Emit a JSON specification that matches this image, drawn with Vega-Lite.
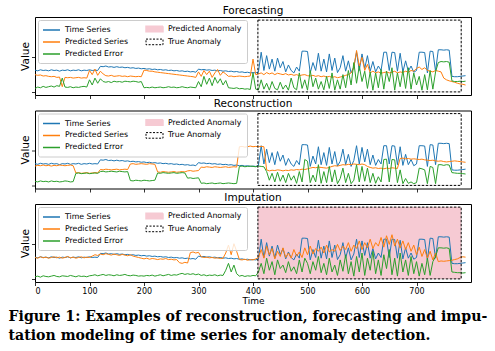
{
"$schema": "https://vega.github.io/schema/vega-lite/v6.json",
"background": "white",
"padding": {"left": 8, "top": 5, "right": 5, "bottom": 2},
"datasets": {
"box": [{"t": 409, "t2": 782, "lo": 0, "hi": 2.08}],
"s": [
{"t":0,"ts":0.63,"fp":0.50,"fe":0.10,"rp":0.56,"re":0.12,"ip":0.62,"ie":0.06},
{"t":5,"ts":0.61,"fp":0.48,"fe":0.14,"rp":0.58,"re":0.10,"ip":0.60,"ie":0.08},
{"t":10,"ts":0.64,"fp":0.49,"fe":0.12,"rp":0.57,"re":0.13,"ip":0.64,"ie":0.05},
{"t":15,"ts":0.62,"fp":0.46,"fe":0.16,"rp":0.59,"re":0.11,"ip":0.61,"ie":0.09},
{"t":20,"ts":0.63,"fp":0.47,"fe":0.13,"rp":0.57,"re":0.12,"ip":0.63,"ie":0.07},
{"t":25,"ts":0.61,"fp":0.45,"fe":0.15,"rp":0.58,"re":0.10,"ip":0.60,"ie":0.06},
{"t":30,"ts":0.64,"fp":0.44,"fe":0.17,"rp":0.56,"re":0.13,"ip":0.62,"ie":0.08},
{"t":35,"ts":0.62,"fp":0.45,"fe":0.14,"rp":0.58,"re":0.11,"ip":0.64,"ie":0.10},
{"t":40,"ts":0.63,"fp":0.42,"fe":0.18,"rp":0.57,"re":0.12,"ip":0.61,"ie":0.07},
{"t":45,"ts":0.60,"fp":0.43,"fe":0.16,"rp":0.59,"re":0.10,"ip":0.63,"ie":0.06},
{"t":50,"ts":0.63,"fp":0.15,"fe":0.40,"rp":0.58,"re":0.11,"ip":0.60,"ie":0.09},
{"t":55,"ts":0.62,"fp":0.42,"fe":0.14,"rp":0.57,"re":0.13,"ip":0.62,"ie":0.08},
{"t":60,"ts":0.64,"fp":0.41,"fe":0.13,"rp":0.58,"re":0.12,"ip":0.65,"ie":0.07},
{"t":65,"ts":0.61,"fp":0.42,"fe":0.15,"rp":0.59,"re":0.10,"ip":0.61,"ie":0.10},
{"t":70,"ts":0.63,"fp":0.40,"fe":0.12,"rp":0.57,"re":0.11,"ip":0.63,"ie":0.08},
{"t":75,"ts":0.62,"fp":0.41,"fe":0.14,"rp":0.36,"re":0.35,"ip":0.60,"ie":0.06},
{"t":80,"ts":0.64,"fp":0.42,"fe":0.13,"rp":0.37,"re":0.36,"ip":0.62,"ie":0.09},
{"t":85,"ts":0.61,"fp":0.40,"fe":0.15,"rp":0.35,"re":0.34,"ip":0.64,"ie":0.07},
{"t":90,"ts":0.63,"fp":0.41,"fe":0.16,"rp":0.36,"re":0.35,"ip":0.61,"ie":0.08},
{"t":95,"ts":0.62,"fp":0.40,"fe":0.14,"rp":0.37,"re":0.36,"ip":0.63,"ie":0.06},
{"t":100,"ts":0.64,"fp":0.62,"fe":0.35,"rp":0.35,"re":0.34,"ip":0.62,"ie":0.09},
{"t":105,"ts":0.62,"fp":0.50,"fe":0.20,"rp":0.36,"re":0.35,"ip":0.66,"ie":0.10},
{"t":110,"ts":0.63,"fp":0.66,"fe":0.40,"rp":0.37,"re":0.36,"ip":0.70,"ie":0.12},
{"t":115,"ts":0.62,"fp":0.48,"fe":0.25,"rp":0.36,"re":0.35,"ip":0.68,"ie":0.09},
{"t":120,"ts":0.74,"fp":0.60,"fe":0.38,"rp":0.46,"re":0.40,"ip":0.72,"ie":0.11},
{"t":125,"ts":0.73,"fp":0.52,"fe":0.30,"rp":0.45,"re":0.41,"ip":0.70,"ie":0.13},
{"t":130,"ts":0.75,"fp":0.47,"fe":0.28,"rp":0.47,"re":0.39,"ip":0.73,"ie":0.10},
{"t":135,"ts":0.72,"fp":0.46,"fe":0.30,"rp":0.46,"re":0.40,"ip":0.71,"ie":0.12},
{"t":140,"ts":0.73,"fp":0.48,"fe":0.27,"rp":0.45,"re":0.41,"ip":0.69,"ie":0.11},
{"t":145,"ts":0.71,"fp":0.45,"fe":0.31,"rp":0.46,"re":0.40,"ip":0.72,"ie":0.09},
{"t":150,"ts":0.73,"fp":0.46,"fe":0.29,"rp":0.47,"re":0.39,"ip":0.70,"ie":0.12},
{"t":155,"ts":0.71,"fp":0.47,"fe":0.30,"rp":0.45,"re":0.41,"ip":0.68,"ie":0.10},
{"t":160,"ts":0.72,"fp":0.45,"fe":0.28,"rp":0.46,"re":0.40,"ip":0.71,"ie":0.11},
{"t":165,"ts":0.70,"fp":0.46,"fe":0.31,"rp":0.47,"re":0.39,"ip":0.69,"ie":0.13},
{"t":170,"ts":0.71,"fp":0.44,"fe":0.30,"rp":0.46,"re":0.40,"ip":0.67,"ie":0.10},
{"t":175,"ts":0.69,"fp":0.46,"fe":0.29,"rp":0.62,"re":0.14,"ip":0.70,"ie":0.09},
{"t":180,"ts":0.70,"fp":0.45,"fe":0.31,"rp":0.63,"re":0.13,"ip":0.66,"ie":0.11},
{"t":185,"ts":0.68,"fp":0.44,"fe":0.30,"rp":0.61,"re":0.15,"ip":0.64,"ie":0.10},
{"t":190,"ts":0.69,"fp":0.45,"fe":0.28,"rp":0.62,"re":0.14,"ip":0.62,"ie":0.08},
{"t":195,"ts":0.67,"fp":0.44,"fe":0.30,"rp":0.63,"re":0.13,"ip":0.60,"ie":0.09},
{"t":200,"ts":0.68,"fp":0.63,"fe":0.12,"rp":0.62,"re":0.15,"ip":0.58,"ie":0.08},
{"t":205,"ts":0.66,"fp":0.62,"fe":0.13,"rp":0.61,"re":0.14,"ip":0.60,"ie":0.10},
{"t":210,"ts":0.67,"fp":0.60,"fe":0.12,"rp":0.63,"re":0.13,"ip":0.57,"ie":0.09},
{"t":215,"ts":0.65,"fp":0.60,"fe":0.14,"rp":0.62,"re":0.14,"ip":0.59,"ie":0.11},
{"t":220,"ts":0.66,"fp":0.58,"fe":0.12,"rp":0.61,"re":0.15,"ip":0.58,"ie":0.08},
{"t":225,"ts":0.64,"fp":0.57,"fe":0.13,"rp":0.39,"re":0.36,"ip":0.56,"ie":0.10},
{"t":230,"ts":0.65,"fp":0.56,"fe":0.14,"rp":0.38,"re":0.35,"ip":0.58,"ie":0.12},
{"t":235,"ts":0.63,"fp":0.55,"fe":0.12,"rp":0.40,"re":0.37,"ip":0.57,"ie":0.09},
{"t":240,"ts":0.64,"fp":0.54,"fe":0.13,"rp":0.39,"re":0.36,"ip":0.59,"ie":0.11},
{"t":245,"ts":0.62,"fp":0.53,"fe":0.15,"rp":0.38,"re":0.35,"ip":0.56,"ie":0.13},
{"t":250,"ts":0.63,"fp":0.52,"fe":0.13,"rp":0.39,"re":0.36,"ip":0.57,"ie":0.10},
{"t":255,"ts":0.61,"fp":0.51,"fe":0.14,"rp":0.40,"re":0.37,"ip":0.55,"ie":0.12},
{"t":260,"ts":0.62,"fp":0.50,"fe":0.12,"rp":0.38,"re":0.35,"ip":0.56,"ie":0.11},
{"t":265,"ts":0.60,"fp":0.49,"fe":0.13,"rp":0.39,"re":0.36,"ip":0.47,"ie":0.14},
{"t":270,"ts":0.61,"fp":0.48,"fe":0.15,"rp":0.40,"re":0.37,"ip":0.45,"ie":0.16},
{"t":275,"ts":0.59,"fp":0.47,"fe":0.13,"rp":0.39,"re":0.36,"ip":0.48,"ie":0.13},
{"t":280,"ts":0.60,"fp":0.46,"fe":0.12,"rp":0.42,"re":0.21,"ip":0.46,"ie":0.15},
{"t":285,"ts":0.58,"fp":0.45,"fe":0.14,"rp":0.43,"re":0.22,"ip":0.76,"ie":0.13},
{"t":290,"ts":0.59,"fp":0.44,"fe":0.13,"rp":0.41,"re":0.20,"ip":0.78,"ie":0.15},
{"t":295,"ts":0.57,"fp":0.42,"fe":0.12,"rp":0.42,"re":0.21,"ip":0.75,"ie":0.12},
{"t":300,"ts":0.66,"fp":0.58,"fe":0.30,"rp":0.43,"re":0.22,"ip":0.77,"ie":0.14},
{"t":305,"ts":0.64,"fp":0.45,"fe":0.15,"rp":0.53,"re":0.06,"ip":0.64,"ie":0.10},
{"t":310,"ts":0.65,"fp":0.62,"fe":0.45,"rp":0.52,"re":0.07,"ip":0.62,"ie":0.12},
{"t":315,"ts":0.63,"fp":0.50,"fe":0.22,"rp":0.54,"re":0.05,"ip":0.63,"ie":0.09},
{"t":320,"ts":0.64,"fp":0.60,"fe":0.40,"rp":0.53,"re":0.06,"ip":0.61,"ie":0.11},
{"t":325,"ts":0.62,"fp":0.42,"fe":0.18,"rp":0.52,"re":0.07,"ip":0.62,"ie":0.10},
{"t":330,"ts":0.63,"fp":0.55,"fe":0.42,"rp":0.54,"re":0.05,"ip":0.60,"ie":0.12},
{"t":335,"ts":0.61,"fp":0.65,"fe":0.25,"rp":0.53,"re":0.06,"ip":0.61,"ie":0.09},
{"t":340,"ts":0.62,"fp":0.48,"fe":0.38,"rp":0.52,"re":0.07,"ip":0.59,"ie":0.11},
{"t":345,"ts":0.60,"fp":0.58,"fe":0.20,"rp":0.53,"re":0.05,"ip":0.60,"ie":0.10},
{"t":350,"ts":0.61,"fp":0.52,"fe":0.33,"rp":0.54,"re":0.06,"ip":0.75,"ie":0.25},
{"t":355,"ts":0.59,"fp":0.45,"fe":0.12,"rp":0.52,"re":0.07,"ip":0.98,"ie":0.45},
{"t":360,"ts":0.60,"fp":0.46,"fe":0.11,"rp":0.53,"re":0.06,"ip":0.70,"ie":0.20},
{"t":365,"ts":0.58,"fp":0.44,"fe":0.10,"rp":0.54,"re":0.05,"ip":1.02,"ie":0.40},
{"t":370,"ts":0.59,"fp":0.45,"fe":0.12,"rp":0.53,"re":0.06,"ip":0.80,"ie":0.15},
{"t":375,"ts":0.57,"fp":0.46,"fe":0.09,"rp":1.12,"re":0.55,"ip":0.56,"ie":0.08},
{"t":380,"ts":0.58,"fp":0.45,"fe":0.10,"rp":1.13,"re":0.56,"ip":0.55,"ie":0.10},
{"t":385,"ts":0.56,"fp":0.44,"fe":0.08,"rp":1.11,"re":0.54,"ip":0.57,"ie":0.07},
{"t":390,"ts":0.57,"fp":0.45,"fe":0.09,"rp":1.12,"re":0.55,"ip":0.54,"ie":0.09},
{"t":395,"ts":0.55,"fp":0.46,"fe":0.07,"rp":1.14,"re":0.56,"ip":0.56,"ie":0.08},
{"t":400,"ts":0.56,"fp":0.95,"fe":0.55,"rp":1.12,"re":0.55,"ip":0.55,"ie":0.10},
{"t":405,"ts":0.55,"fp":0.50,"fe":0.08,"rp":1.13,"re":0.54,"ip":0.58,"ie":0.09},
{"t":410,"ts":0.58,"fp":0.52,"fe":0.06,"rp":1.12,"re":0.56,"ip":0.62,"ie":0.20},
{"t":415,"ts":1.15,"fp":0.55,"fe":0.35,"rp":1.13,"re":0.55,"ip":0.85,"ie":0.45},
{"t":420,"ts":0.62,"fp":0.50,"fe":0.08,"rp":1.12,"re":0.54,"ip":0.60,"ie":0.15},
{"t":425,"ts":1.05,"fp":0.56,"fe":0.25,"rp":0.45,"re":0.40,"ip":0.95,"ie":0.60},
{"t":430,"ts":0.66,"fp":0.52,"fe":0.05,"rp":0.42,"re":0.15,"ip":0.70,"ie":0.25},
{"t":435,"ts":0.95,"fp":0.55,"fe":0.30,"rp":0.44,"re":0.35,"ip":0.88,"ie":0.50},
{"t":440,"ts":0.60,"fp":0.50,"fe":0.10,"rp":0.43,"re":0.10,"ip":0.58,"ie":0.12},
{"t":445,"ts":0.98,"fp":0.54,"fe":0.06,"rp":0.45,"re":0.38,"ip":0.80,"ie":0.55},
{"t":450,"ts":0.70,"fp":0.52,"fe":0.28,"rp":0.44,"re":0.12,"ip":0.65,"ie":0.30},
{"t":455,"ts":0.88,"fp":0.50,"fe":0.08,"rp":0.42,"re":0.30,"ip":0.90,"ie":0.40},
{"t":460,"ts":0.58,"fp":0.53,"fe":0.20,"rp":0.44,"re":0.08,"ip":0.62,"ie":0.18},
{"t":465,"ts":0.78,"fp":0.49,"fe":0.05,"rp":0.43,"re":0.35,"ip":0.75,"ie":0.50},
{"t":470,"ts":0.62,"fp":0.51,"fe":0.40,"rp":0.45,"re":0.15,"ip":0.60,"ie":0.22},
{"t":475,"ts":0.55,"fp":0.48,"fe":0.12,"rp":0.44,"re":0.28,"ip":0.85,"ie":0.35},
{"t":480,"ts":0.72,"fp":0.50,"fe":0.06,"rp":0.46,"re":0.06,"ip":0.66,"ie":0.15},
{"t":485,"ts":0.60,"fp":0.47,"fe":0.55,"rp":0.45,"re":0.40,"ip":0.78,"ie":0.55},
{"t":490,"ts":1.18,"fp":0.49,"fe":0.10,"rp":0.47,"re":0.10,"ip":0.62,"ie":0.20},
{"t":495,"ts":1.18,"fp":0.50,"fe":0.35,"rp":0.46,"re":0.75,"ip":0.90,"ie":0.60},
{"t":500,"ts":1.17,"fp":0.47,"fe":0.05,"rp":0.48,"re":0.70,"ip":0.70,"ie":0.45},
{"t":505,"ts":0.55,"fp":0.46,"fe":0.62,"rp":0.50,"re":0.08,"ip":0.95,"ie":0.15},
{"t":510,"ts":0.85,"fp":0.48,"fe":0.15,"rp":0.52,"re":0.30,"ip":0.72,"ie":0.50},
{"t":515,"ts":0.62,"fp":0.45,"fe":0.40,"rp":0.51,"re":0.10,"ip":0.88,"ie":0.25},
{"t":520,"ts":1.12,"fp":0.47,"fe":0.08,"rp":0.53,"re":0.60,"ip":0.80,"ie":0.65},
{"t":525,"ts":0.60,"fp":0.44,"fe":0.30,"rp":0.52,"re":0.06,"ip":0.92,"ie":0.18},
{"t":530,"ts":0.95,"fp":0.46,"fe":0.06,"rp":0.51,"re":0.40,"ip":0.75,"ie":0.45},
{"t":535,"ts":0.58,"fp":0.43,"fe":0.45,"rp":0.50,"re":0.08,"ip":0.98,"ie":0.12},
{"t":540,"ts":1.10,"fp":0.45,"fe":0.10,"rp":0.52,"re":0.55,"ip":0.78,"ie":0.60},
{"t":545,"ts":0.62,"fp":0.42,"fe":0.55,"rp":0.55,"re":0.10,"ip":0.85,"ie":0.20},
{"t":550,"ts":0.98,"fp":0.44,"fe":0.05,"rp":0.57,"re":0.45,"ip":0.80,"ie":0.40},
{"t":555,"ts":0.56,"fp":0.41,"fe":0.35,"rp":0.56,"re":0.05,"ip":1.00,"ie":0.10},
{"t":560,"ts":0.70,"fp":0.43,"fe":0.08,"rp":0.58,"re":0.20,"ip":0.82,"ie":0.55},
{"t":565,"ts":1.05,"fp":0.45,"fe":0.50,"rp":0.60,"re":0.50,"ip":0.95,"ie":0.22},
{"t":570,"ts":0.60,"fp":0.48,"fe":0.12,"rp":0.59,"re":0.08,"ip":0.85,"ie":0.70},
{"t":575,"ts":0.90,"fp":0.50,"fe":0.62,"rp":0.61,"re":0.35,"ip":1.05,"ie":0.15},
{"t":580,"ts":0.55,"fp":0.55,"fe":0.20,"rp":0.60,"re":0.05,"ip":0.80,"ie":0.50},
{"t":585,"ts":0.72,"fp":0.70,"fe":0.85,"rp":0.62,"re":0.15,"ip":0.98,"ie":0.08},
{"t":590,"ts":1.15,"fp":1.20,"fe":0.25,"rp":0.61,"re":0.60,"ip":0.88,"ie":0.65},
{"t":595,"ts":0.62,"fp":0.75,"fe":0.75,"rp":0.60,"re":0.10,"ip":1.10,"ie":0.20},
{"t":600,"ts":1.10,"fp":1.00,"fe":0.30,"rp":0.62,"re":0.55,"ip":0.85,"ie":0.75},
{"t":605,"ts":0.68,"fp":0.62,"fe":0.60,"rp":0.60,"re":0.12,"ip":1.05,"ie":0.10},
{"t":610,"ts":1.05,"fp":0.80,"fe":0.10,"rp":0.55,"re":0.50,"ip":0.90,"ie":0.60},
{"t":615,"ts":0.60,"fp":0.55,"fe":0.58,"rp":0.52,"re":0.08,"ip":1.15,"ie":0.25},
{"t":620,"ts":0.88,"fp":0.60,"fe":0.05,"rp":0.50,"re":0.35,"ip":0.88,"ie":0.80},
{"t":625,"ts":0.58,"fp":0.55,"fe":0.55,"rp":0.51,"re":0.06,"ip":1.05,"ie":0.15},
{"t":630,"ts":0.75,"fp":0.58,"fe":0.12,"rp":0.49,"re":0.25,"ip":0.95,"ie":0.55},
{"t":635,"ts":0.62,"fp":0.54,"fe":0.65,"rp":0.50,"re":0.10,"ip":1.20,"ie":0.10},
{"t":640,"ts":1.15,"fp":0.56,"fe":0.08,"rp":0.48,"re":0.75,"ip":0.92,"ie":0.70},
{"t":645,"ts":1.15,"fp":0.58,"fe":0.60,"rp":0.50,"re":0.76,"ip":1.25,"ie":0.30},
{"t":650,"ts":0.62,"fp":0.55,"fe":0.30,"rp":0.49,"re":0.10,"ip":1.00,"ie":0.85},
{"t":655,"ts":1.15,"fp":0.57,"fe":0.70,"rp":0.51,"re":0.75,"ip":1.28,"ie":0.12},
{"t":660,"ts":1.14,"fp":0.60,"fe":0.05,"rp":0.50,"re":0.74,"ip":0.95,"ie":0.60},
{"t":665,"ts":0.60,"fp":0.55,"fe":0.55,"rp":0.49,"re":0.08,"ip":1.15,"ie":0.08},
{"t":670,"ts":1.12,"fp":0.58,"fe":0.15,"rp":0.78,"re":0.45,"ip":0.90,"ie":0.75},
{"t":675,"ts":0.58,"fp":0.56,"fe":0.62,"rp":0.79,"re":0.05,"ip":1.10,"ie":0.20},
{"t":680,"ts":0.90,"fp":0.60,"fe":0.10,"rp":0.77,"re":0.20,"ip":0.85,"ie":0.55},
{"t":685,"ts":0.60,"fp":0.57,"fe":0.70,"rp":0.78,"re":0.06,"ip":1.05,"ie":0.10},
{"t":690,"ts":0.75,"fp":0.62,"fe":0.08,"rp":0.76,"re":0.10,"ip":0.80,"ie":0.65},
{"t":695,"ts":0.57,"fp":0.60,"fe":0.55,"rp":0.77,"re":0.05,"ip":0.98,"ie":0.15},
{"t":700,"ts":0.62,"fp":0.68,"fe":0.20,"rp":0.76,"re":0.08,"ip":0.70,"ie":0.50},
{"t":705,"ts":1.15,"fp":0.72,"fe":0.45,"rp":0.75,"re":0.50,"ip":0.92,"ie":0.08},
{"t":710,"ts":1.15,"fp":0.65,"fe":0.05,"rp":0.76,"re":0.48,"ip":0.65,"ie":0.45},
{"t":715,"ts":1.14,"fp":0.70,"fe":0.50,"rp":0.74,"re":0.45,"ip":0.85,"ie":0.12},
{"t":720,"ts":0.55,"fp":0.62,"fe":0.06,"rp":0.73,"re":0.05,"ip":0.60,"ie":0.60},
{"t":725,"ts":1.18,"fp":0.60,"fe":0.62,"rp":0.72,"re":0.55,"ip":0.80,"ie":0.10},
{"t":730,"ts":1.17,"fp":0.58,"fe":0.08,"rp":0.73,"re":0.52,"ip":0.55,"ie":0.50},
{"t":735,"ts":0.60,"fp":0.62,"fe":0.58,"rp":0.71,"re":0.05,"ip":0.75,"ie":0.65},
{"t":740,"ts":1.22,"fp":0.60,"fe":0.85,"rp":0.70,"re":0.60,"ip":0.50,"ie":0.90},
{"t":745,"ts":1.22,"fp":0.58,"fe":0.88,"rp":0.71,"re":0.60,"ip":0.52,"ie":0.90},
{"t":750,"ts":1.21,"fp":0.40,"fe":0.87,"rp":0.69,"re":0.58,"ip":0.51,"ie":0.89},
{"t":755,"ts":1.22,"fp":0.35,"fe":0.88,"rp":0.68,"re":0.60,"ip":0.52,"ie":0.90},
{"t":760,"ts":1.21,"fp":0.32,"fe":0.86,"rp":0.69,"re":0.59,"ip":0.53,"ie":0.88},
{"t":765,"ts":0.45,"fp":0.30,"fe":0.32,"rp":0.70,"re":0.37,"ip":0.54,"ie":0.20},
{"t":770,"ts":0.44,"fp":0.28,"fe":0.30,"rp":0.71,"re":0.36,"ip":0.56,"ie":0.19},
{"t":775,"ts":0.44,"fp":0.25,"fe":0.30,"rp":0.70,"re":0.35,"ip":0.58,"ie":0.18},
{"t":780,"ts":0.45,"fp":0.23,"fe":0.31,"rp":0.69,"re":0.35,"ip":0.62,"ie":0.18},
{"t":785,"ts":0.46,"fp":0.22,"fe":0.30,"rp":0.68,"re":0.34,"ip":0.64,"ie":0.17},
{"t":790,"ts":0.47,"fp":0.20,"fe":0.31,"rp":0.67,"re":0.33,"ip":0.63,"ie":0.18}
]
},
"title": {
"text": ["Figure 1: Examples of reconstruction, forecasting and impu-", "tation modeling of time series for anomaly detection."],
"orient": "bottom", "anchor": "start", "frame": "bounds",
"font": "DejaVu Serif", "fontSize": 14.1, "fontWeight": "bold", "color": "black",
"lineHeight": 19, "offset": 4, "dx": -11
},
"spacing": -1.5,
"resolve": {"scale": {"color": "independent"}, "legend": {"color": "independent"}},
"vconcat": [
{
"title": {"text": "Forecasting"},
"width": 436, "height": 78,
"encoding": {"x": {"field": "t", "type": "quantitative", "scale": {"domain": [0, 800], "nice": false, "zero": false}, "axis": {"values": [0,100,200,300,400,500,600,700], "labels": false, "title": null}}},
"layer": [
{"data": {"name": "s"}, "mark": {"type": "line", "strokeWidth": 1},
 "encoding": {"y": {"field": "ts", "type": "quantitative", "title": "Value", "scale": {"domain": [-0.09, 2.17], "nice": false, "zero": false}, "axis": {"values": [0, 1], "labels": false, "titleFontSize": 10.5}},
  "color": {"datum": "Time Series", "type": "nominal",
   "scale": {"domain": ["Time Series","Predicted Series","Predicted Error","Predicted Anomaly","True Anomaly"], "range": ["#1f77b4","#ff7f0e","#2ca02c","#f6cad3","#000000"]},
   "legend": {"title": null, "orient": "top-left", "offset": 3, "columns": 2,
    "encode": {"symbols": {"update": {
     "x": {"value": 8.5},
     "shape": {"signal": "datum.value==='Predicted Anomaly'||datum.value==='True Anomaly' ? 'M-1,-0.33H1V0.33H-1Z' : 'stroke'"},
     "fill": {"signal": "datum.value==='Predicted Anomaly' ? '#f6cad3' : 'transparent'"},
     "stroke": {"signal": "datum.value==='Predicted Anomaly' ? 'transparent' : datum.value==='True Anomaly' ? '#000000' : datum.value==='Time Series' ? '#1f77b4' : datum.value==='Predicted Series' ? '#ff7f0e' : '#2ca02c'"},
     "strokeDash": {"signal": "datum.value==='True Anomaly' ? [2,1.5] : [1,0]"},
     "strokeWidth": {"signal": "datum.value==='True Anomaly' ? 1 : 1.5"},
     "opacity": {"value": 1}}},
     "labels": {"update": {"x": {"value": 22}}}}}}}},
{"data": {"name": "s"}, "mark": {"type": "line", "strokeWidth": 1},
 "encoding": {"y": {"field": "fp", "type": "quantitative", "title": "Value"}, "color": {"datum": "Predicted Series", "type": "nominal"}}},
{"data": {"name": "s"}, "mark": {"type": "line", "strokeWidth": 1},
 "encoding": {"y": {"field": "fe", "type": "quantitative", "title": "Value"}, "color": {"datum": "Predicted Error", "type": "nominal"}}},
{"data": {"name": "box"}, "mark": {"type": "rect", "fill": "transparent", "stroke": "black", "strokeWidth": 1, "strokeDash": [2.5, 1.5]},
 "encoding": {"x2": {"field": "t2"}, "y": {"field": "lo", "type": "quantitative", "title": "Value"}, "y2": {"field": "hi"}}}
]
},
{
"title": {"text": "Reconstruction"},
"width": 436, "height": 78,
"encoding": {"x": {"field": "t", "type": "quantitative", "scale": {"domain": [0, 800], "nice": false, "zero": false}, "axis": {"values": [0,100,200,300,400,500,600,700], "labels": false, "title": null}}},
"layer": [
{"data": {"name": "s"}, "mark": {"type": "line", "strokeWidth": 1},
 "encoding": {"y": {"field": "ts", "type": "quantitative", "title": "Value", "scale": {"domain": [-0.09, 2.17], "nice": false, "zero": false}, "axis": {"values": [0, 1], "labels": false, "titleFontSize": 10.5}},
  "color": {"datum": "Time Series", "type": "nominal",
   "scale": {"domain": ["Time Series","Predicted Series","Predicted Error","Predicted Anomaly","True Anomaly"], "range": ["#1f77b4","#ff7f0e","#2ca02c","#f6cad3","#000000"]},
   "legend": {"title": null, "orient": "top-left", "offset": 3, "columns": 2,
    "encode": {"symbols": {"update": {
     "x": {"value": 8.5},
     "shape": {"signal": "datum.value==='Predicted Anomaly'||datum.value==='True Anomaly' ? 'M-1,-0.33H1V0.33H-1Z' : 'stroke'"},
     "fill": {"signal": "datum.value==='Predicted Anomaly' ? '#f6cad3' : 'transparent'"},
     "stroke": {"signal": "datum.value==='Predicted Anomaly' ? 'transparent' : datum.value==='True Anomaly' ? '#000000' : datum.value==='Time Series' ? '#1f77b4' : datum.value==='Predicted Series' ? '#ff7f0e' : '#2ca02c'"},
     "strokeDash": {"signal": "datum.value==='True Anomaly' ? [2,1.5] : [1,0]"},
     "strokeWidth": {"signal": "datum.value==='True Anomaly' ? 1 : 1.5"},
     "opacity": {"value": 1}}},
     "labels": {"update": {"x": {"value": 22}}}}}}}},
{"data": {"name": "s"}, "mark": {"type": "line", "strokeWidth": 1},
 "encoding": {"y": {"field": "rp", "type": "quantitative", "title": "Value"}, "color": {"datum": "Predicted Series", "type": "nominal"}}},
{"data": {"name": "s"}, "mark": {"type": "line", "strokeWidth": 1},
 "encoding": {"y": {"field": "re", "type": "quantitative", "title": "Value"}, "color": {"datum": "Predicted Error", "type": "nominal"}}},
{"data": {"name": "box"}, "mark": {"type": "rect", "fill": "transparent", "stroke": "black", "strokeWidth": 1, "strokeDash": [2.5, 1.5]},
 "encoding": {"x2": {"field": "t2"}, "y": {"field": "lo", "type": "quantitative", "title": "Value"}, "y2": {"field": "hi"}}}
]
},
{
"title": {"text": "Imputation"},
"width": 436, "height": 78,
"encoding": {"x": {"field": "t", "type": "quantitative", "scale": {"domain": [0, 800], "nice": false, "zero": false}, "axis": {"values": [0,100,200,300,400,500,600,700], "labels": true, "title": "Time"}}},
"layer": [
{"data": {"name": "box"}, "mark": {"type": "rect", "fill": "#f6cad3"},
 "encoding": {"x2": {"field": "t2"}, "y": {"field": "lo", "type": "quantitative", "title": "Value", "scale": {"domain": [-0.09, 2.17], "nice": false, "zero": false}, "axis": {"values": [0, 1], "labels": false, "titleFontSize": 10.5}}, "y2": {"field": "hi"}}},
{"data": {"name": "s"}, "mark": {"type": "line", "strokeWidth": 1},
 "encoding": {"y": {"field": "ts", "type": "quantitative", "title": "Value"},
  "color": {"datum": "Time Series", "type": "nominal",
   "scale": {"domain": ["Time Series","Predicted Series","Predicted Error","Predicted Anomaly","True Anomaly"], "range": ["#1f77b4","#ff7f0e","#2ca02c","#f6cad3","#000000"]},
   "legend": {"title": null, "orient": "top-left", "offset": 3, "columns": 2,
    "encode": {"symbols": {"update": {
     "x": {"value": 8.5},
     "shape": {"signal": "datum.value==='Predicted Anomaly'||datum.value==='True Anomaly' ? 'M-1,-0.33H1V0.33H-1Z' : 'stroke'"},
     "fill": {"signal": "datum.value==='Predicted Anomaly' ? '#f6cad3' : 'transparent'"},
     "stroke": {"signal": "datum.value==='Predicted Anomaly' ? 'transparent' : datum.value==='True Anomaly' ? '#000000' : datum.value==='Time Series' ? '#1f77b4' : datum.value==='Predicted Series' ? '#ff7f0e' : '#2ca02c'"},
     "strokeDash": {"signal": "datum.value==='True Anomaly' ? [2,1.5] : [1,0]"},
     "strokeWidth": {"signal": "datum.value==='True Anomaly' ? 1 : 1.5"},
     "opacity": {"value": 1}}},
     "labels": {"update": {"x": {"value": 22}}}}}}}},
{"data": {"name": "s"}, "mark": {"type": "line", "strokeWidth": 1},
 "encoding": {"y": {"field": "ip", "type": "quantitative", "title": "Value"}, "color": {"datum": "Predicted Series", "type": "nominal"}}},
{"data": {"name": "s"}, "mark": {"type": "line", "strokeWidth": 1},
 "encoding": {"y": {"field": "ie", "type": "quantitative", "title": "Value"}, "color": {"datum": "Predicted Error", "type": "nominal"}}},
{"data": {"name": "box"}, "mark": {"type": "rect", "fill": "transparent", "stroke": "black", "strokeWidth": 1, "strokeDash": [2.5, 1.5]},
 "encoding": {"x2": {"field": "t2"}, "y": {"field": "lo", "type": "quantitative", "title": "Value"}, "y2": {"field": "hi"}}}
]
}
],
"config": {
"font": "DejaVu Sans",
"view": {"stroke": "black", "strokeWidth": 1},
"axis": {"grid": false, "domain": false, "tickColor": "black", "tickWidth": 0.8, "tickSize": 3.5, "labelFont": "DejaVu Sans", "labelFontSize": 8, "labelColor": "black", "labelPadding": 1.5, "titleFont": "DejaVu Sans", "titleFontSize": 9, "titleFontWeight": "normal", "titleColor": "black", "titlePadding": 1},
"title": {"font": "DejaVu Sans", "fontSize": 10.5, "fontWeight": "normal", "color": "black", "offset": 1},
"legend": {"labelFont": "DejaVu Sans", "labelFontSize": 7.8, "labelColor": "black", "labelOffset": 5, "symbolSize": 289, "symbolType": "stroke", "symbolStrokeWidth": 1.5, "columnPadding": 14, "rowPadding": 2, "padding": 5, "strokeColor": "#cccccc", "fillColor": "rgba(255,255,255,0.8)", "cornerRadius": 2}
}
}
